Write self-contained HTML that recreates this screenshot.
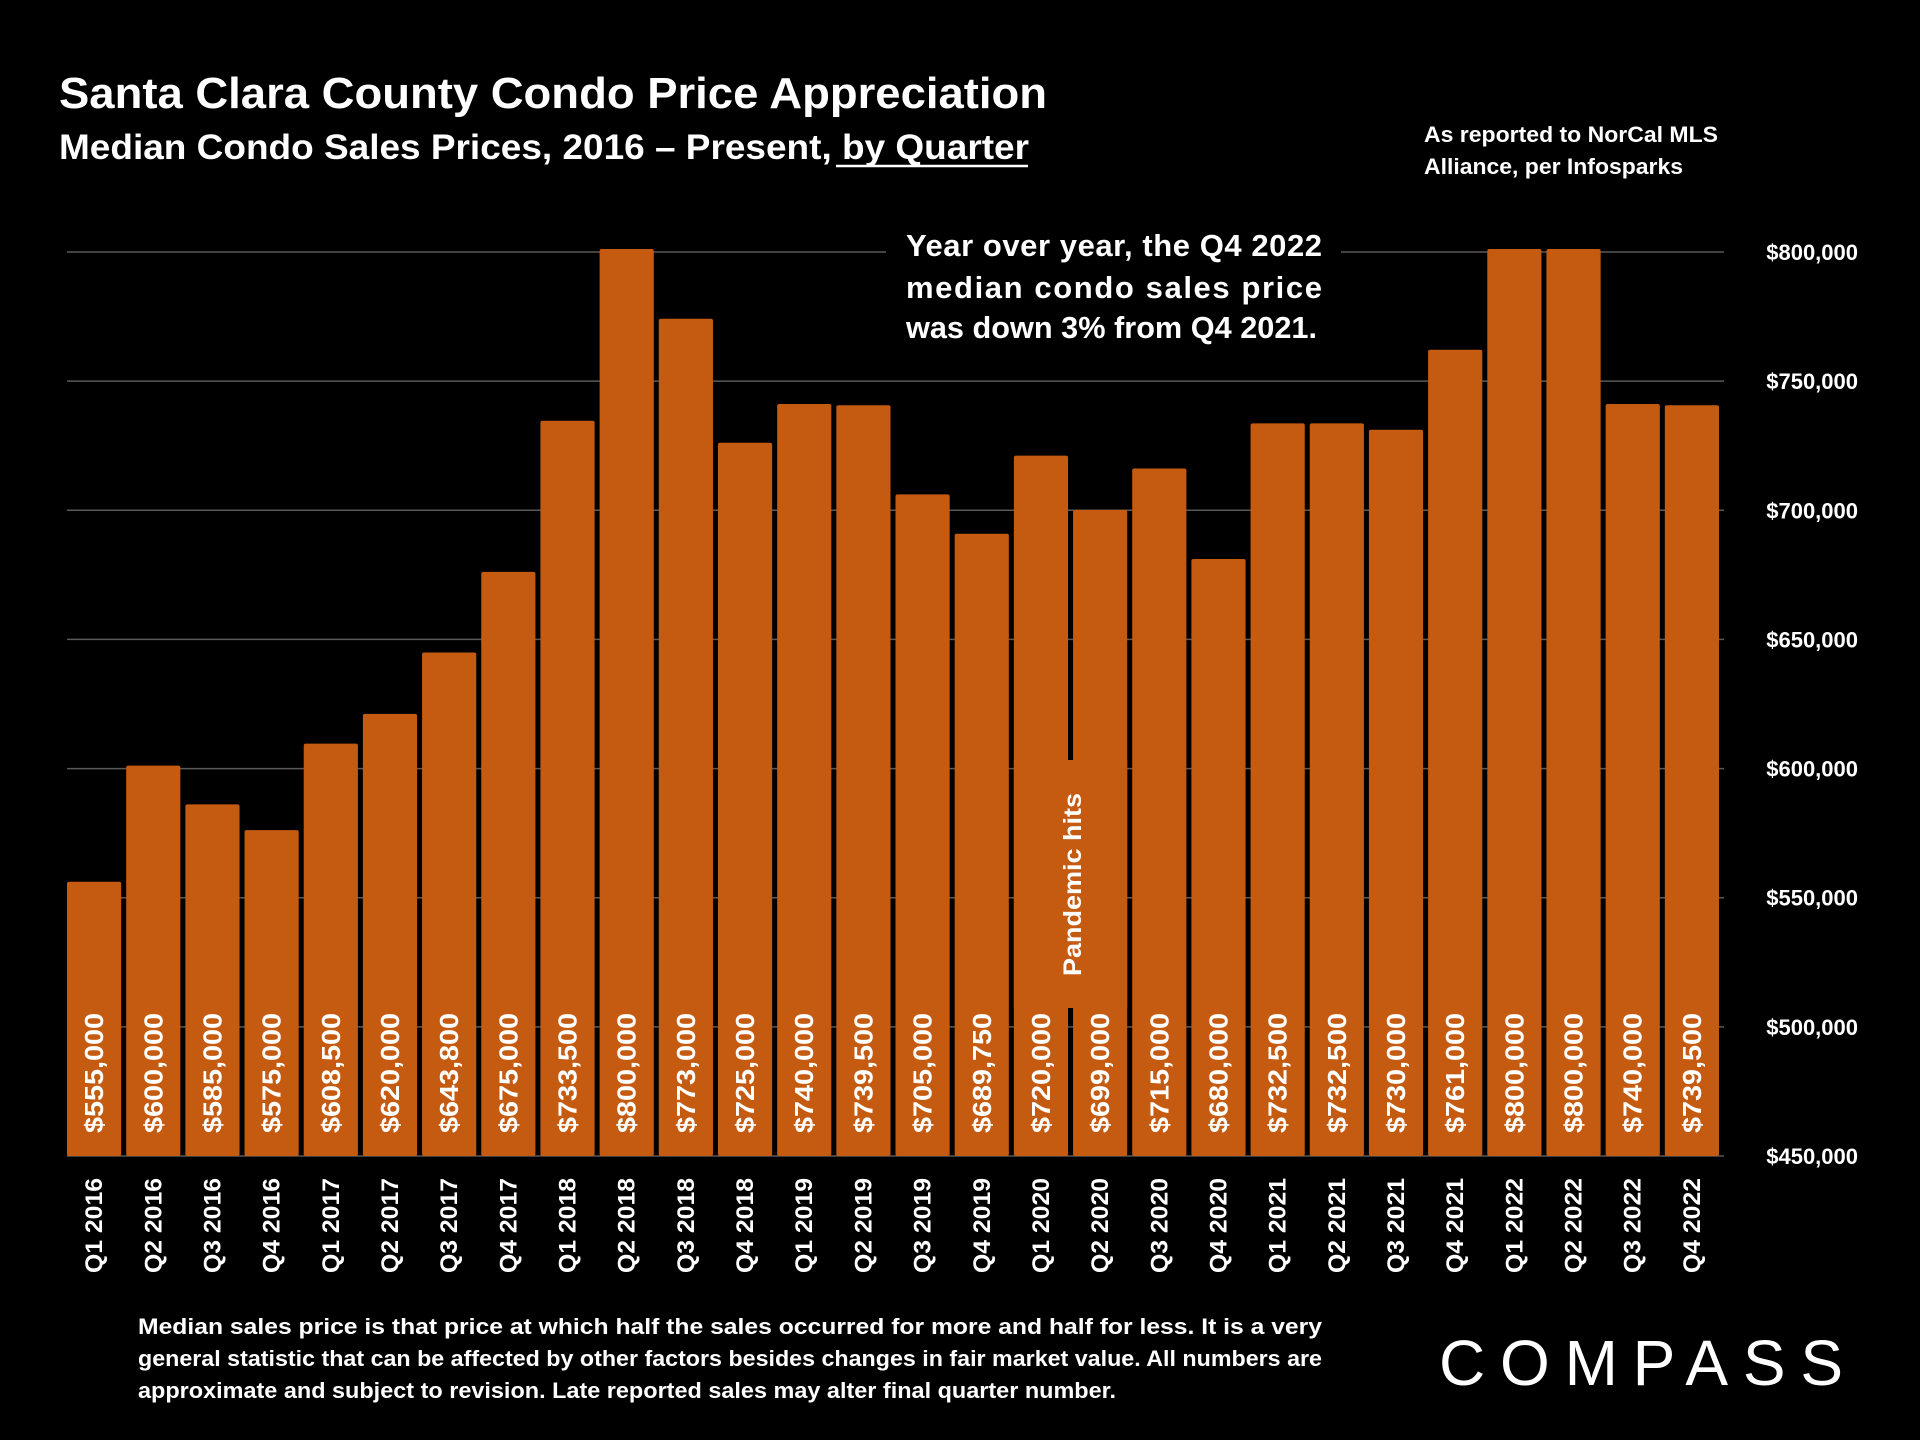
<!DOCTYPE html>
<html><head><meta charset="utf-8"><style>
html,body{margin:0;padding:0;background:#000;}
svg{display:block;}
text{font-family:"Liberation Sans",sans-serif;fill:#fff;}
</style></head><body>
<svg id="chart" width="1920" height="1440" viewBox="0 0 1920 1440" xmlns="http://www.w3.org/2000/svg">
<rect width="1920" height="1440" fill="#000"/>
<text x="59" y="108" font-size="44" font-weight="bold" textLength="988" lengthAdjust="spacingAndGlyphs">Santa Clara County Condo Price Appreciation</text>
<text x="59" y="159" font-size="35" font-weight="bold" textLength="970" lengthAdjust="spacingAndGlyphs">Median Condo Sales Prices, 2016 – Present, by Quarter</text>
<line x1="836" y1="166" x2="1028" y2="166" stroke="#fff" stroke-width="2.5"/>
<text x="1424" y="142" font-size="22" font-weight="bold" textLength="294" lengthAdjust="spacingAndGlyphs">As reported to NorCal MLS</text>
<text x="1424" y="174" font-size="22" font-weight="bold" textLength="259" lengthAdjust="spacingAndGlyphs">Alliance, per Infosparks</text>
<g id="grid"></g>
<g id="bars"></g>
<rect x="886" y="225" width="455" height="130" fill="#000"/>
<g font-size="31" font-weight="bold">
<text x="906" y="256" textLength="416" lengthAdjust="spacing">Year over year, the Q4 2022</text>
<text x="906" y="298" textLength="416" lengthAdjust="spacing">median condo sales price</text>
<text x="906" y="338" textLength="411" lengthAdjust="spacingAndGlyphs">was down 3% from Q4 2021.</text>
</g>
<g id="ylabels"></g>
<g id="xlabels"></g>
<g id="pandemic"></g>
<g font-size="22" font-weight="bold">
<text x="138" y="1334" textLength="1184" lengthAdjust="spacingAndGlyphs">Median sales price is that price at which half the sales occurred for more and half for less. It is a very</text>
<text x="138" y="1366" textLength="1184" lengthAdjust="spacingAndGlyphs">general statistic that can be affected by other factors besides changes in fair market value. All numbers are</text>
<text x="138" y="1398" textLength="978" lengthAdjust="spacingAndGlyphs">approximate and subject to revision. Late reported sales may alter final quarter number.</text>
</g>
<text x="1439" y="1385" font-size="64" textLength="404" lengthAdjust="spacing" style="font-weight:normal">COMPASS</text>
</svg>
<script>
const categories = ["Q1 2016","Q2 2016","Q3 2016","Q4 2016","Q1 2017","Q2 2017","Q3 2017","Q4 2017","Q1 2018","Q2 2018","Q3 2018","Q4 2018","Q1 2019","Q2 2019","Q3 2019","Q4 2019","Q1 2020","Q2 2020","Q3 2020","Q4 2020","Q1 2021","Q2 2021","Q3 2021","Q4 2021","Q1 2022","Q2 2022","Q3 2022","Q4 2022"];
const prices = [555000,600000,585000,575000,608500,620000,643800,675000,733500,800000,773000,725000,740000,739500,705000,689750,720000,699000,715000,680000,732500,732500,730000,761000,800000,800000,740000,739500];
const valueLabels = ["$555,000","$600,000","$585,000","$575,000","$608,500","$620,000","$643,800","$675,000","$733,500","$800,000","$773,000","$725,000","$740,000","$739,500","$705,000","$689,750","$720,000","$699,000","$715,000","$680,000","$732,500","$732,500","$730,000","$761,000","$800,000","$800,000","$740,000","$739,500"];
const yTicks = [450000,500000,550000,600000,650000,700000,750000,800000];
const yTickLabels = ["$450,000","$500,000","$550,000","$600,000","$650,000","$700,000","$750,000","$800,000"];
const NS="http://www.w3.org/2000/svg";
const plotL=67, plotR=1724, yMin=450000, yMax=800000, y0=1156, y1=252;
const step=(plotR-plotL)/categories.length, bw=step-5;
function y(v){return y0-(v-yMin)/(yMax-yMin)*(y0-y1);}
function x(i){return plotL+i*step;}
function mk(t,a){const e=document.createElementNS(NS,t);for(const k in a)e.setAttribute(k,a[k]);return e;}
const grid=document.getElementById('grid'), bars=document.getElementById('bars'), yl=document.getElementById('ylabels'), xl=document.getElementById('xlabels'), pg=document.getElementById('pandemic');
yTicks.forEach((v,i)=>{
  const l=mk('line',{x1:plotL,x2:plotR,y1:y(v),y2:y(v),stroke:'#595959','stroke-width':1.5});
  
  
  grid.appendChild(l);
  const t=mk('text',{x:1858,y:y(v)+8,'font-size':22,'font-weight':'bold','text-anchor':'end'});
  
  
  t.textContent=yTickLabels[i];yl.appendChild(t);
});
prices.forEach((v,i)=>{
  const r=mk('rect',{x:x(i),y:y(v)-3,width:bw,height:y0-y(v)+3,fill:'#C55A11',rx:2});
  
  
  bars.appendChild(r);
  const cx=x(i)+bw/2;
  const t=mk('text',{transform:`translate(${cx+9},1133) rotate(-90)`,'font-size':26,'font-weight':'bold',textLength:120,lengthAdjust:'spacingAndGlyphs'});
  
  
  t.textContent=valueLabels[i];bars.appendChild(t);
  const c=mk('text',{transform:`translate(${cx+8},1273) rotate(-90)`,'font-size':24,'font-weight':'bold',textLength:95,lengthAdjust:'spacingAndGlyphs'});
  
  
  c.textContent=categories[i];xl.appendChild(c);
});
// pandemic annotation box spanning Q1 2020 and Q2 2020
const pi=categories.indexOf("Q1 2020");
const pr=mk('rect',{x:x(pi),y:760,width:step+bw,height:248,fill:'#C55A11'});


pg.appendChild(pr);
const pt=mk('text',{transform:`translate(${x(pi)+step-1+9},976) rotate(-90)`,'font-size':25,'font-weight':'bold',textLength:183,lengthAdjust:'spacingAndGlyphs'});


pt.textContent="Pandemic hits";
pg.appendChild(pt);
</script>
</body></html>
